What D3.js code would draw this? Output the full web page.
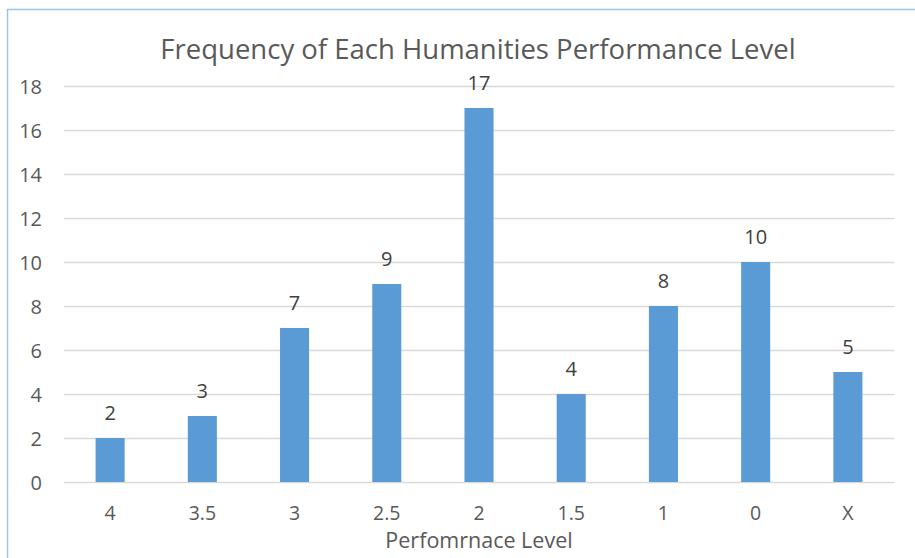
<!DOCTYPE html>
<html>
<head>
<meta charset="utf-8">
<script src="https://cdn.jsdelivr.net/npm/d3@7"></script>
<style>
  body { margin: 0; background: #fff; }
  text { font-family: "Open Sans", "Noto Sans", sans-serif; }
</style>
</head>
<body>
<div id="chart"></div>
<script>
const categories = ["4", "3.5", "3", "2.5", "2", "1.5", "1", "0", "X"];
const counts = [2, 3, 7, 9, 17, 4, 8, 10, 5];
const yTicks = [0, 2, 4, 6, 8, 10, 12, 14, 16, 18];

const w = 915, h = 558;
const margin = { top: 86, right: 21, bottom: 76, left: 64 };

const data = categories.map((c, i) => ({ cat: c, value: counts[i] }));

const svg = d3.select("#chart").append("svg")
    .attr("width", w)
    .attr("height", h);

// chart border
svg.append("rect")
    .attr("x", 7.5).attr("y", 9.5)
    .attr("width", w).attr("height", h)
    .attr("fill", "#fff")
    .attr("stroke", "#9dc3e6")
    .attr("stroke-width", 1.5);

const x = d3.scaleBand()
    .domain(categories)
    .range([margin.left, w - margin.right])
    .paddingInner(0.685)
    .paddingOuter(0.3425);

const y = d3.scaleLinear()
    .domain([0, 18])
    .range([h - margin.bottom, margin.top]);

// gridlines
svg.append("g")
    .selectAll("line")
    .data(yTicks)
    .join("line")
    .attr("x1", margin.left)
    .attr("x2", w - margin.right)
    .attr("y1", d => Math.round(y(d)) + 0.5)
    .attr("y2", d => Math.round(y(d)) + 0.5)
    .attr("stroke", "#d9d9d9")
    .attr("stroke-width", 1.5);

// y axis labels
svg.append("g")
    .attr("transform", `translate(${margin.left - 22},0)`)
    .call(d3.axisLeft(y).tickValues(yTicks).tickSize(0).tickPadding(0))
    .call(g => g.select(".domain").remove())
    .call(g => g.selectAll("text")
        .attr("fill", "#595959")
        .style("font-size", "20px")
        .attr("dy", "0.36em"));

// x axis labels
svg.append("g")
    .attr("transform", `translate(0,${h - margin.bottom})`)
    .call(d3.axisBottom(x).tickSize(0).tickPadding(0))
    .call(g => g.select(".domain").remove())
    .call(g => g.selectAll("text")
        .attr("fill", "#595959")
        .attr("dy", null)
        .attr("y", 38)
        .style("font-size", "19.5px"));

// bars
svg.append("g")
    .selectAll("rect")
    .data(data)
    .join("rect")
    .attr("x", d => x(d.cat))
    .attr("y", d => y(d.value))
    .attr("width", x.bandwidth())
    .attr("height", d => y(0) - y(d.value))
    .attr("fill", "#5b9bd5");

// data labels
svg.append("g")
    .selectAll("text")
    .data(data)
    .join("text")
    .attr("x", d => x(d.cat) + x.bandwidth() / 2)
    .attr("y", d => y(d.value) - 18)
    .attr("text-anchor", "middle")
    .attr("fill", "#404040")
    .style("font-size", "20px")
    .text(d => d.value);

// title
svg.append("text")
    .attr("x", (margin.left + w - margin.right) / 2 - 1)
    .attr("y", 59)
    .attr("text-anchor", "middle")
    .attr("fill", "#595959")
    .style("font-size", "27.5px")
    .text("Frequency of Each Humanities Performance Level");

// x axis title
svg.append("text")
    .attr("x", (margin.left + w - margin.right) / 2)
    .attr("y", 548)
    .attr("text-anchor", "middle")
    .attr("fill", "#595959")
    .style("font-size", "21.5px")
    .text("Perfomrnace Level");
</script>
</body>
</html>
